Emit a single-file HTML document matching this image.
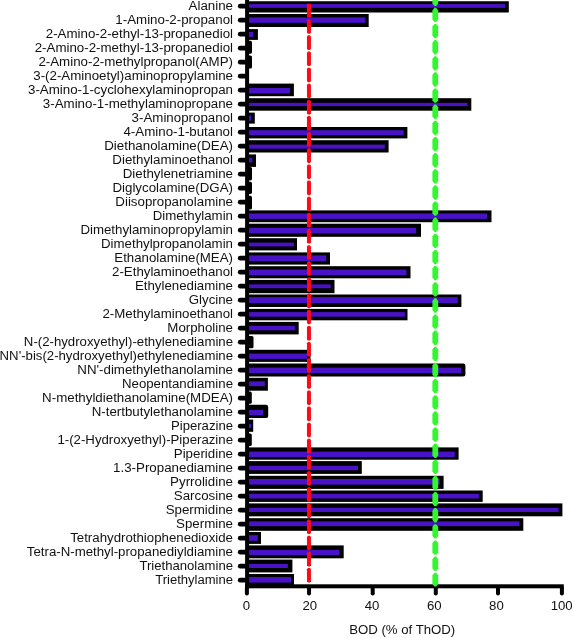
<!DOCTYPE html><html><head><meta charset="utf-8"><title>BOD chart</title><style>html,body{margin:0;padding:0;background:#fff}svg{display:block}text{font-family:"Liberation Sans",Arial,Helvetica,sans-serif;font-size:13.32px;fill:#111}.a{font-size:13.2px}</style></head><body>
<svg width="572" height="638" viewBox="0 0 572 638">
<rect width="572" height="638" fill="#fff"/>
<rect x="246" y="1.25" width="262.80" height="11.25" rx="0" fill="#000"/>
<rect x="248" y="4.10" width="257.20" height="3.70" fill="#4a12c6"/>
<line x1="240.2" y1="6.20" x2="246" y2="6.20" stroke="#000" stroke-width="4.7" stroke-linecap="round"/>
<text x="233" y="10.23" text-anchor="end">Alanine</text>
<rect x="246" y="14.00" width="122.70" height="13.00" rx="0" fill="#000"/>
<rect x="248" y="17.40" width="117.40" height="5.40" fill="#4a12c6"/>
<line x1="240.2" y1="20.20" x2="246" y2="20.20" stroke="#000" stroke-width="4.7" stroke-linecap="round"/>
<text x="233" y="24.23" text-anchor="end">1-Amino-2-propanol</text>
<rect x="246" y="29.10" width="11.90" height="10.80" rx="0" fill="#000"/>
<rect x="248" y="32.00" width="5.10" height="5.00" fill="#4a12c6"/>
<line x1="240.2" y1="34.20" x2="246" y2="34.20" stroke="#000" stroke-width="4.7" stroke-linecap="round"/>
<text x="233" y="38.23" text-anchor="end">2-Amino-2-ethyl-13-propanediol</text>
<rect x="246" y="40.70" width="6.00" height="13.00" rx="1.6" fill="#000"/>
<line x1="240.2" y1="48.20" x2="246" y2="48.20" stroke="#000" stroke-width="4.7" stroke-linecap="round"/>
<text x="233" y="52.23" text-anchor="end">2-Amino-2-methyl-13-propanediol</text>
<rect x="246" y="55.40" width="6.00" height="13.10" rx="1.6" fill="#000"/>
<line x1="240.2" y1="62.20" x2="246" y2="62.20" stroke="#000" stroke-width="4.7" stroke-linecap="round"/>
<text x="233" y="66.23" text-anchor="end">2-Amino-2-methylpropanol(AMP)</text>
<rect x="246" y="72.00" width="3.00" height="8.00" rx="1.6" fill="#000"/>
<line x1="240.2" y1="76.20" x2="246" y2="76.20" stroke="#000" stroke-width="4.7" stroke-linecap="round"/>
<text x="233" y="80.23" text-anchor="end">3-(2-Aminoetyl)aminopropylamine</text>
<rect x="246" y="83.60" width="47.90" height="12.60" rx="0" fill="#000"/>
<rect x="248" y="88.00" width="41.90" height="5.50" fill="#4a12c6"/>
<line x1="240.2" y1="90.20" x2="246" y2="90.20" stroke="#000" stroke-width="4.7" stroke-linecap="round"/>
<text x="233" y="94.23" text-anchor="end">3-Amino-1-cyclohexylaminopropan</text>
<rect x="246" y="98.20" width="225.30" height="12.50" rx="0" fill="#000"/>
<rect x="248" y="102.80" width="219.50" height="3.30" fill="#4a12c6"/>
<line x1="240.2" y1="104.20" x2="246" y2="104.20" stroke="#000" stroke-width="4.7" stroke-linecap="round"/>
<text x="233" y="108.23" text-anchor="end">3-Amino-1-methylaminopropane</text>
<rect x="246" y="112.60" width="8.80" height="11.00" rx="0" fill="#000"/>
<rect x="248" y="115.70" width="3.20" height="5.10" fill="#4a12c6"/>
<line x1="240.2" y1="118.20" x2="246" y2="118.20" stroke="#000" stroke-width="4.7" stroke-linecap="round"/>
<text x="233" y="122.23" text-anchor="end">3-Aminopropanol</text>
<rect x="246" y="127.00" width="161.40" height="11.40" rx="0" fill="#000"/>
<rect x="248" y="130.20" width="155.60" height="5.00" fill="#4a12c6"/>
<line x1="240.2" y1="132.20" x2="246" y2="132.20" stroke="#000" stroke-width="4.7" stroke-linecap="round"/>
<text x="233" y="136.23" text-anchor="end">4-Amino-1-butanol</text>
<rect x="246" y="140.20" width="142.60" height="12.30" rx="0" fill="#000"/>
<rect x="248" y="144.60" width="136.80" height="4.10" fill="#4a12c6"/>
<line x1="240.2" y1="146.20" x2="246" y2="146.20" stroke="#000" stroke-width="4.7" stroke-linecap="round"/>
<text x="233" y="150.23" text-anchor="end">Diethanolamine(DEA)</text>
<rect x="246" y="154.40" width="10.00" height="12.50" rx="0" fill="#000"/>
<rect x="248" y="157.80" width="4.30" height="4.70" fill="#4a12c6"/>
<line x1="240.2" y1="160.20" x2="246" y2="160.20" stroke="#000" stroke-width="4.7" stroke-linecap="round"/>
<text x="233" y="164.23" text-anchor="end">Diethylaminoethanol</text>
<rect x="246" y="166.90" width="6.00" height="13.50" rx="1.6" fill="#000"/>
<line x1="240.2" y1="174.20" x2="246" y2="174.20" stroke="#000" stroke-width="4.7" stroke-linecap="round"/>
<text x="233" y="178.23" text-anchor="end">Diethylenetriamine</text>
<rect x="246" y="181.70" width="6.00" height="12.20" rx="1.6" fill="#000"/>
<line x1="240.2" y1="188.20" x2="246" y2="188.20" stroke="#000" stroke-width="4.7" stroke-linecap="round"/>
<text x="233" y="192.23" text-anchor="end">Diglycolamine(DGA)</text>
<rect x="246" y="195.80" width="6.00" height="13.80" rx="1.6" fill="#000"/>
<line x1="240.2" y1="202.20" x2="246" y2="202.20" stroke="#000" stroke-width="4.7" stroke-linecap="round"/>
<text x="233" y="206.23" text-anchor="end">Diisopropanolamine</text>
<rect x="246" y="210.40" width="245.50" height="11.80" rx="0" fill="#000"/>
<rect x="248" y="213.50" width="239.00" height="5.40" fill="#4a12c6"/>
<line x1="240.2" y1="216.20" x2="246" y2="216.20" stroke="#000" stroke-width="4.7" stroke-linecap="round"/>
<text x="233" y="220.23" text-anchor="end" style="font-size:13.28px">Dimethylamin</text>
<rect x="246" y="223.70" width="175.00" height="13.10" rx="0" fill="#000"/>
<rect x="248" y="227.80" width="168.20" height="5.60" fill="#4a12c6"/>
<line x1="240.2" y1="230.20" x2="246" y2="230.20" stroke="#000" stroke-width="4.7" stroke-linecap="round"/>
<text x="233" y="234.23" text-anchor="end" style="font-size:13.28px">Dimethylaminopropylamin</text>
<rect x="246" y="238.20" width="51.00" height="12.20" rx="0" fill="#000"/>
<rect x="248" y="242.60" width="45.90" height="3.80" fill="#4a12c6"/>
<line x1="240.2" y1="244.20" x2="246" y2="244.20" stroke="#000" stroke-width="4.7" stroke-linecap="round"/>
<text x="233" y="248.23" text-anchor="end" style="font-size:13.28px">Dimethylpropanolamin</text>
<rect x="246" y="252.40" width="84.00" height="12.20" rx="0" fill="#000"/>
<rect x="248" y="255.40" width="78.20" height="5.80" fill="#4a12c6"/>
<line x1="240.2" y1="258.20" x2="246" y2="258.20" stroke="#000" stroke-width="4.7" stroke-linecap="round"/>
<text x="233" y="262.23" text-anchor="end" style="font-size:13.28px">Ethanolamine(MEA)</text>
<rect x="246" y="266.20" width="164.50" height="12.10" rx="0" fill="#000"/>
<rect x="248" y="269.60" width="158.50" height="5.60" fill="#4a12c6"/>
<line x1="240.2" y1="272.20" x2="246" y2="272.20" stroke="#000" stroke-width="4.7" stroke-linecap="round"/>
<text x="233" y="276.23" text-anchor="end" style="font-size:13.28px">2-Ethylaminoethanol</text>
<rect x="246" y="279.90" width="88.50" height="13.30" rx="0" fill="#000"/>
<rect x="248" y="284.40" width="82.70" height="3.80" fill="#4a12c6"/>
<line x1="240.2" y1="286.20" x2="246" y2="286.20" stroke="#000" stroke-width="4.7" stroke-linecap="round"/>
<text x="233" y="290.23" text-anchor="end" style="font-size:13.28px">Ethylenediamine</text>
<rect x="246" y="294.50" width="215.40" height="12.50" rx="0" fill="#000"/>
<rect x="248" y="297.20" width="209.80" height="5.90" fill="#4a12c6"/>
<line x1="240.2" y1="300.20" x2="246" y2="300.20" stroke="#000" stroke-width="4.7" stroke-linecap="round"/>
<text x="233" y="304.23" text-anchor="end" style="font-size:13.28px">Glycine</text>
<rect x="246" y="308.90" width="161.50" height="11.40" rx="0" fill="#000"/>
<rect x="248" y="312.10" width="156.80" height="4.60" fill="#4a12c6"/>
<line x1="240.2" y1="314.20" x2="246" y2="314.20" stroke="#000" stroke-width="4.7" stroke-linecap="round"/>
<text x="233" y="318.23" text-anchor="end" style="font-size:13.28px">2-Methylaminoethanol</text>
<rect x="246" y="321.90" width="52.70" height="12.50" rx="0" fill="#000"/>
<rect x="248" y="325.90" width="46.90" height="4.40" fill="#4a12c6"/>
<line x1="240.2" y1="328.20" x2="246" y2="328.20" stroke="#000" stroke-width="4.7" stroke-linecap="round"/>
<text x="233" y="332.23" text-anchor="end" style="font-size:13.28px">Morpholine</text>
<rect x="246" y="335.90" width="7.50" height="12.40" rx="1.6" fill="#000"/>
<line x1="240.2" y1="342.20" x2="246" y2="342.20" stroke="#000" stroke-width="4.7" stroke-linecap="round"/>
<text x="233" y="346.23" text-anchor="end" style="font-size:13.21px">N-(2-hydroxyethyl)-ethylenediamine</text>
<rect x="246" y="349.80" width="64.50" height="12.10" rx="0" fill="#000"/>
<rect x="248" y="353.60" width="59.10" height="5.30" fill="#4a12c6"/>
<line x1="240.2" y1="356.20" x2="246" y2="356.20" stroke="#000" stroke-width="4.7" stroke-linecap="round"/>
<text x="233" y="360.23" text-anchor="end" style="font-size:13.2px">NN&#39;-bis(2-hydroxyethyl)ethylenediamine</text>
<rect x="246" y="363.60" width="219.40" height="12.80" rx="2.2" fill="#000"/>
<rect x="248" y="367.60" width="213.20" height="5.60" fill="#4a12c6"/>
<line x1="240.2" y1="370.20" x2="246" y2="370.20" stroke="#000" stroke-width="4.7" stroke-linecap="round"/>
<text x="233" y="374.23" text-anchor="end">NN&#39;-dimethylethanolamine</text>
<rect x="246" y="377.80" width="21.90" height="12.90" rx="0" fill="#000"/>
<rect x="248" y="381.40" width="16.80" height="4.70" fill="#4a12c6"/>
<line x1="240.2" y1="384.20" x2="246" y2="384.20" stroke="#000" stroke-width="4.7" stroke-linecap="round"/>
<text x="233" y="388.23" text-anchor="end" style="font-size:13.22px">Neopentandiamine</text>
<rect x="246" y="391.60" width="5.80" height="12.20" rx="1.6" fill="#000"/>
<line x1="240.2" y1="398.20" x2="246" y2="398.20" stroke="#000" stroke-width="4.7" stroke-linecap="round"/>
<text x="233" y="402.23" text-anchor="end">N-methyldiethanolamine(MDEA)</text>
<rect x="246" y="404.80" width="22.20" height="13.30" rx="2.2" fill="#000"/>
<rect x="248" y="409.90" width="15.10" height="5.10" fill="#4a12c6"/>
<line x1="240.2" y1="412.20" x2="246" y2="412.20" stroke="#000" stroke-width="4.7" stroke-linecap="round"/>
<text x="233" y="416.23" text-anchor="end">N-tertbutylethanolamine</text>
<rect x="246" y="419.60" width="7.20" height="12.20" rx="0" fill="#000"/>
<rect x="248" y="423.70" width="3.20" height="4.30" fill="#4a12c6"/>
<line x1="240.2" y1="426.20" x2="246" y2="426.20" stroke="#000" stroke-width="4.7" stroke-linecap="round"/>
<text x="233" y="430.23" text-anchor="end" style="font-size:13.13px">Piperazine</text>
<rect x="246" y="433.40" width="5.80" height="12.70" rx="1.6" fill="#000"/>
<line x1="240.2" y1="440.20" x2="246" y2="440.20" stroke="#000" stroke-width="4.7" stroke-linecap="round"/>
<text x="233" y="444.23" text-anchor="end" style="font-size:13.22px">1-(2-Hydroxyethyl)-Piperazine</text>
<rect x="246" y="447.40" width="212.60" height="12.30" rx="0" fill="#000"/>
<rect x="248" y="451.60" width="206.80" height="5.40" fill="#4a12c6"/>
<line x1="240.2" y1="454.20" x2="246" y2="454.20" stroke="#000" stroke-width="4.7" stroke-linecap="round"/>
<text x="233" y="458.23" text-anchor="end">Piperidine</text>
<rect x="246" y="461.10" width="115.80" height="12.80" rx="0" fill="#000"/>
<rect x="248" y="465.80" width="110.00" height="4.40" fill="#4a12c6"/>
<line x1="240.2" y1="468.20" x2="246" y2="468.20" stroke="#000" stroke-width="4.7" stroke-linecap="round"/>
<text x="233" y="472.23" text-anchor="end">1.3-Propanediamine</text>
<rect x="246" y="475.80" width="197.60" height="13.10" rx="0" fill="#000"/>
<rect x="248" y="479.00" width="191.80" height="5.60" fill="#4a12c6"/>
<line x1="240.2" y1="482.20" x2="246" y2="482.20" stroke="#000" stroke-width="4.7" stroke-linecap="round"/>
<text x="233" y="486.23" text-anchor="end">Pyrrolidine</text>
<rect x="246" y="490.50" width="236.70" height="11.40" rx="0" fill="#000"/>
<rect x="248" y="493.80" width="230.90" height="4.70" fill="#4a12c6"/>
<line x1="240.2" y1="496.20" x2="246" y2="496.20" stroke="#000" stroke-width="4.7" stroke-linecap="round"/>
<text x="233" y="500.23" text-anchor="end">Sarcosine</text>
<rect x="246" y="503.40" width="316.40" height="12.90" rx="0" fill="#000"/>
<rect x="248" y="507.80" width="310.60" height="4.20" fill="#4a12c6"/>
<line x1="240.2" y1="510.20" x2="246" y2="510.20" stroke="#000" stroke-width="4.7" stroke-linecap="round"/>
<text x="233" y="514.23" text-anchor="end">Spermidine</text>
<rect x="246" y="518.20" width="277.30" height="12.60" rx="0" fill="#000"/>
<rect x="248" y="521.40" width="271.50" height="4.70" fill="#4a12c6"/>
<line x1="240.2" y1="524.20" x2="246" y2="524.20" stroke="#000" stroke-width="4.7" stroke-linecap="round"/>
<text x="233" y="528.23" text-anchor="end">Spermine</text>
<rect x="246" y="532.00" width="15.00" height="11.90" rx="0" fill="#000"/>
<rect x="248" y="535.20" width="9.80" height="5.60" fill="#4a12c6"/>
<line x1="240.2" y1="538.20" x2="246" y2="538.20" stroke="#000" stroke-width="4.7" stroke-linecap="round"/>
<text x="233" y="542.23" text-anchor="end" style="font-size:13.25px">Tetrahydrothiophenedioxide</text>
<rect x="246" y="545.40" width="97.70" height="12.90" rx="0" fill="#000"/>
<rect x="248" y="549.90" width="91.50" height="5.15" fill="#4a12c6"/>
<line x1="240.2" y1="552.20" x2="246" y2="552.20" stroke="#000" stroke-width="4.7" stroke-linecap="round"/>
<text x="233" y="556.23" text-anchor="end" style="font-size:13.26px">Tetra-N-methyl-propanediyldiamine</text>
<rect x="246" y="559.60" width="46.40" height="12.80" rx="0" fill="#000"/>
<rect x="248" y="564.00" width="39.90" height="4.00" fill="#4a12c6"/>
<line x1="240.2" y1="566.20" x2="246" y2="566.20" stroke="#000" stroke-width="4.7" stroke-linecap="round"/>
<text x="233" y="570.23" text-anchor="end" style="font-size:13.13px">Triethanolamine</text>
<rect x="246" y="574.00" width="48.00" height="12.00" rx="0" fill="#000"/>
<rect x="248" y="577.00" width="43.00" height="5.60" fill="#4a12c6"/>
<line x1="240.2" y1="580.20" x2="246" y2="580.20" stroke="#000" stroke-width="4.7" stroke-linecap="round"/>
<text x="233" y="584.23" text-anchor="end" style="font-size:13.05px">Triethylamine</text>
<rect x="245.1" y="0" width="4" height="588.3" fill="#000"/>
<rect x="245.1" y="584.3" width="318.7" height="4" fill="#000"/>
<line x1="246.90" y1="588" x2="246.90" y2="593.4" stroke="#000" stroke-width="4" stroke-linecap="round"/>
<text class="a" x="246.40" y="610.4" text-anchor="middle">0</text>
<line x1="309.05" y1="588" x2="309.05" y2="593.4" stroke="#000" stroke-width="4" stroke-linecap="round"/>
<text class="a" x="309.75" y="610.4" text-anchor="middle">20</text>
<line x1="372.70" y1="588" x2="372.70" y2="593.4" stroke="#000" stroke-width="4" stroke-linecap="round"/>
<text class="a" x="372.00" y="610.4" text-anchor="middle">40</text>
<line x1="435.80" y1="588" x2="435.80" y2="593.4" stroke="#000" stroke-width="4" stroke-linecap="round"/>
<text class="a" x="434.30" y="610.4" text-anchor="middle">60</text>
<line x1="498.00" y1="588" x2="498.00" y2="593.4" stroke="#000" stroke-width="4" stroke-linecap="round"/>
<text class="a" x="496.40" y="610.4" text-anchor="middle">80</text>
<line x1="561.90" y1="588" x2="561.90" y2="593.4" stroke="#000" stroke-width="4" stroke-linecap="round"/>
<text class="a" x="561.70" y="610.4" text-anchor="middle">100</text>
<text class="a" x="402.2" y="634.2" text-anchor="middle">BOD (% of ThOD)</text>
<polygon fill="#ff0a16" points="306.95,3.80 307.95,3.80 309.95,3.80 310.95,3.80 310.95,16.42 309.95,17.62 307.95,17.62 306.95,16.42"/>
<polygon fill="#ff0a16" points="306.95,20.42 307.95,19.22 309.95,19.22 310.95,20.42 310.95,32.56 309.95,33.76 307.95,33.76 306.95,32.56"/>
<polygon fill="#ff0a16" points="306.95,36.56 307.95,35.36 309.95,35.36 310.95,36.56 310.95,48.70 309.95,49.90 307.95,49.90 306.95,48.70"/>
<polygon fill="#ff0a16" points="306.95,52.70 307.95,51.50 309.95,51.50 310.95,52.70 310.95,64.84 309.95,66.04 307.95,66.04 306.95,64.84"/>
<polygon fill="#ff0a16" points="306.95,68.84 307.95,67.64 309.95,67.64 310.95,68.84 310.95,80.98 309.95,82.18 307.95,82.18 306.95,80.98"/>
<polygon fill="#ff0a16" points="306.95,84.98 307.95,83.78 309.95,83.78 310.95,84.98 310.95,97.12 309.95,98.32 307.95,98.32 306.95,97.12"/>
<polygon fill="#ff0a16" points="306.95,101.12 307.95,99.92 309.95,99.92 310.95,101.12 310.95,113.26 309.95,114.46 307.95,114.46 306.95,113.26"/>
<polygon fill="#ff0a16" points="306.95,117.26 307.95,116.06 309.95,116.06 310.95,117.26 310.95,129.40 309.95,130.60 307.95,130.60 306.95,129.40"/>
<polygon fill="#ff0a16" points="306.95,133.40 307.95,132.20 309.95,132.20 310.95,133.40 310.95,145.54 309.95,146.74 307.95,146.74 306.95,145.54"/>
<polygon fill="#ff0a16" points="306.95,149.54 307.95,148.34 309.95,148.34 310.95,149.54 310.95,161.68 309.95,162.88 307.95,162.88 306.95,161.68"/>
<polygon fill="#ff0a16" points="306.95,165.68 307.95,164.48 309.95,164.48 310.95,165.68 310.95,177.82 309.95,179.02 307.95,179.02 306.95,177.82"/>
<polygon fill="#ff0a16" points="306.95,181.82 307.95,180.62 309.95,180.62 310.95,181.82 310.95,193.96 309.95,195.16 307.95,195.16 306.95,193.96"/>
<polygon fill="#ff0a16" points="306.95,197.96 307.95,196.76 309.95,196.76 310.95,197.96 310.95,210.10 309.95,211.30 307.95,211.30 306.95,210.10"/>
<polygon fill="#ff0a16" points="306.95,214.10 307.95,212.90 309.95,212.90 310.95,214.10 310.95,226.24 309.95,227.44 307.95,227.44 306.95,226.24"/>
<polygon fill="#ff0a16" points="306.95,230.24 307.95,229.04 309.95,229.04 310.95,230.24 310.95,242.38 309.95,243.58 307.95,243.58 306.95,242.38"/>
<polygon fill="#ff0a16" points="306.95,246.38 307.95,245.18 309.95,245.18 310.95,246.38 310.95,258.52 309.95,259.72 307.95,259.72 306.95,258.52"/>
<polygon fill="#ff0a16" points="306.95,262.52 307.95,261.32 309.95,261.32 310.95,262.52 310.95,274.66 309.95,275.86 307.95,275.86 306.95,274.66"/>
<polygon fill="#ff0a16" points="306.95,278.66 307.95,277.46 309.95,277.46 310.95,278.66 310.95,290.80 309.95,292.00 307.95,292.00 306.95,290.80"/>
<polygon fill="#ff0a16" points="306.95,294.80 307.95,293.60 309.95,293.60 310.95,294.80 310.95,306.94 309.95,308.14 307.95,308.14 306.95,306.94"/>
<polygon fill="#ff0a16" points="306.95,310.94 307.95,309.74 309.95,309.74 310.95,310.94 310.95,323.08 309.95,324.28 307.95,324.28 306.95,323.08"/>
<polygon fill="#ff0a16" points="306.95,327.08 307.95,325.88 309.95,325.88 310.95,327.08 310.95,339.22 309.95,340.42 307.95,340.42 306.95,339.22"/>
<polygon fill="#ff0a16" points="306.95,343.22 307.95,342.02 309.95,342.02 310.95,343.22 310.95,355.36 309.95,356.56 307.95,356.56 306.95,355.36"/>
<polygon fill="#ff0a16" points="306.95,359.36 307.95,358.16 309.95,358.16 310.95,359.36 310.95,371.50 309.95,372.70 307.95,372.70 306.95,371.50"/>
<polygon fill="#ff0a16" points="306.95,375.50 307.95,374.30 309.95,374.30 310.95,375.50 310.95,387.64 309.95,388.84 307.95,388.84 306.95,387.64"/>
<polygon fill="#ff0a16" points="306.95,391.64 307.95,390.44 309.95,390.44 310.95,391.64 310.95,403.78 309.95,404.98 307.95,404.98 306.95,403.78"/>
<polygon fill="#ff0a16" points="306.95,407.78 307.95,406.58 309.95,406.58 310.95,407.78 310.95,419.92 309.95,421.12 307.95,421.12 306.95,419.92"/>
<polygon fill="#ff0a16" points="306.95,423.92 307.95,422.72 309.95,422.72 310.95,423.92 310.95,436.06 309.95,437.26 307.95,437.26 306.95,436.06"/>
<polygon fill="#ff0a16" points="306.95,440.06 307.95,438.86 309.95,438.86 310.95,440.06 310.95,452.20 309.95,453.40 307.95,453.40 306.95,452.20"/>
<polygon fill="#ff0a16" points="306.95,456.20 307.95,455.00 309.95,455.00 310.95,456.20 310.95,468.34 309.95,469.54 307.95,469.54 306.95,468.34"/>
<polygon fill="#ff0a16" points="306.95,472.34 307.95,471.14 309.95,471.14 310.95,472.34 310.95,484.48 309.95,485.68 307.95,485.68 306.95,484.48"/>
<polygon fill="#ff0a16" points="306.95,488.48 307.95,487.28 309.95,487.28 310.95,488.48 310.95,500.62 309.95,501.82 307.95,501.82 306.95,500.62"/>
<polygon fill="#ff0a16" points="306.95,504.62 307.95,503.42 309.95,503.42 310.95,504.62 310.95,516.76 309.95,517.96 307.95,517.96 306.95,516.76"/>
<polygon fill="#ff0a16" points="306.95,520.76 307.95,519.56 309.95,519.56 310.95,520.76 310.95,532.90 309.95,534.10 307.95,534.10 306.95,532.90"/>
<polygon fill="#ff0a16" points="306.95,536.90 307.95,535.70 309.95,535.70 310.95,536.90 310.95,549.04 309.95,550.24 307.95,550.24 306.95,549.04"/>
<polygon fill="#ff0a16" points="306.95,553.04 307.95,551.84 309.95,551.84 310.95,553.04 310.95,565.18 309.95,566.38 307.95,566.38 306.95,565.18"/>
<polygon fill="#ff0a16" points="306.95,569.18 307.95,567.98 309.95,567.98 310.95,569.18 310.95,581.32 309.95,582.52 307.95,582.52 306.95,581.32"/>
<polygon fill="#33f72e" points="432.40,0.00 434.43,0.00 436.17,0.00 438.20,0.00 438.20,3.38 436.17,5.98 434.43,5.98 432.40,3.38"/>
<polygon fill="#33f72e" points="432.40,10.38 434.43,7.78 436.17,7.78 438.20,10.38 438.20,19.52 436.17,22.12 434.43,22.12 432.40,19.52"/>
<polygon fill="#33f72e" points="432.40,26.52 434.43,23.92 436.17,23.92 438.20,26.52 438.20,35.66 436.17,38.26 434.43,38.26 432.40,35.66"/>
<polygon fill="#33f72e" points="432.40,42.66 434.43,40.06 436.17,40.06 438.20,42.66 438.20,51.80 436.17,54.40 434.43,54.40 432.40,51.80"/>
<polygon fill="#33f72e" points="432.40,58.80 434.43,56.20 436.17,56.20 438.20,58.80 438.20,67.94 436.17,70.54 434.43,70.54 432.40,67.94"/>
<polygon fill="#33f72e" points="432.40,74.94 434.43,72.34 436.17,72.34 438.20,74.94 438.20,84.08 436.17,86.68 434.43,86.68 432.40,84.08"/>
<polygon fill="#33f72e" points="432.40,91.08 434.43,88.48 436.17,88.48 438.20,91.08 438.20,100.22 436.17,102.82 434.43,102.82 432.40,100.22"/>
<polygon fill="#33f72e" points="432.40,107.22 434.43,104.62 436.17,104.62 438.20,107.22 438.20,116.36 436.17,118.96 434.43,118.96 432.40,116.36"/>
<polygon fill="#33f72e" points="432.40,123.36 434.43,120.76 436.17,120.76 438.20,123.36 438.20,132.50 436.17,135.10 434.43,135.10 432.40,132.50"/>
<polygon fill="#33f72e" points="432.40,139.50 434.43,136.90 436.17,136.90 438.20,139.50 438.20,148.64 436.17,151.24 434.43,151.24 432.40,148.64"/>
<polygon fill="#33f72e" points="432.40,155.64 434.43,153.04 436.17,153.04 438.20,155.64 438.20,164.78 436.17,167.38 434.43,167.38 432.40,164.78"/>
<polygon fill="#33f72e" points="432.40,171.78 434.43,169.18 436.17,169.18 438.20,171.78 438.20,180.92 436.17,183.52 434.43,183.52 432.40,180.92"/>
<polygon fill="#33f72e" points="432.40,187.92 434.43,185.32 436.17,185.32 438.20,187.92 438.20,197.06 436.17,199.66 434.43,199.66 432.40,197.06"/>
<polygon fill="#33f72e" points="432.40,204.06 434.43,201.46 436.17,201.46 438.20,204.06 438.20,213.20 436.17,215.80 434.43,215.80 432.40,213.20"/>
<polygon fill="#33f72e" points="432.40,220.20 434.43,217.60 436.17,217.60 438.20,220.20 438.20,229.34 436.17,231.94 434.43,231.94 432.40,229.34"/>
<polygon fill="#33f72e" points="432.40,236.34 434.43,233.74 436.17,233.74 438.20,236.34 438.20,245.48 436.17,248.08 434.43,248.08 432.40,245.48"/>
<polygon fill="#33f72e" points="432.40,252.48 434.43,249.88 436.17,249.88 438.20,252.48 438.20,261.62 436.17,264.22 434.43,264.22 432.40,261.62"/>
<polygon fill="#33f72e" points="432.40,268.62 434.43,266.02 436.17,266.02 438.20,268.62 438.20,277.76 436.17,280.36 434.43,280.36 432.40,277.76"/>
<polygon fill="#33f72e" points="432.40,284.76 434.43,282.16 436.17,282.16 438.20,284.76 438.20,293.90 436.17,296.50 434.43,296.50 432.40,293.90"/>
<polygon fill="#33f72e" points="432.40,300.90 434.43,298.30 436.17,298.30 438.20,300.90 438.20,310.04 436.17,312.64 434.43,312.64 432.40,310.04"/>
<polygon fill="#33f72e" points="432.40,317.04 434.43,314.44 436.17,314.44 438.20,317.04 438.20,326.18 436.17,328.78 434.43,328.78 432.40,326.18"/>
<polygon fill="#33f72e" points="432.40,333.18 434.43,330.58 436.17,330.58 438.20,333.18 438.20,342.32 436.17,344.92 434.43,344.92 432.40,342.32"/>
<polygon fill="#33f72e" points="432.40,349.32 434.43,346.72 436.17,346.72 438.20,349.32 438.20,358.46 436.17,361.06 434.43,361.06 432.40,358.46"/>
<polygon fill="#33f72e" points="432.40,365.46 434.43,362.86 436.17,362.86 438.20,365.46 438.20,374.60 436.17,377.20 434.43,377.20 432.40,374.60"/>
<polygon fill="#33f72e" points="432.40,381.60 434.43,379.00 436.17,379.00 438.20,381.60 438.20,390.74 436.17,393.34 434.43,393.34 432.40,390.74"/>
<polygon fill="#33f72e" points="432.40,397.74 434.43,395.14 436.17,395.14 438.20,397.74 438.20,406.88 436.17,409.48 434.43,409.48 432.40,406.88"/>
<polygon fill="#33f72e" points="432.40,413.88 434.43,411.28 436.17,411.28 438.20,413.88 438.20,423.02 436.17,425.62 434.43,425.62 432.40,423.02"/>
<polygon fill="#33f72e" points="432.40,430.02 434.43,427.42 436.17,427.42 438.20,430.02 438.20,439.16 436.17,441.76 434.43,441.76 432.40,439.16"/>
<polygon fill="#33f72e" points="432.40,446.16 434.43,443.56 436.17,443.56 438.20,446.16 438.20,455.30 436.17,457.90 434.43,457.90 432.40,455.30"/>
<polygon fill="#33f72e" points="432.40,462.30 434.43,459.70 436.17,459.70 438.20,462.30 438.20,471.44 436.17,474.04 434.43,474.04 432.40,471.44"/>
<polygon fill="#33f72e" points="432.40,478.44 434.43,475.84 436.17,475.84 438.20,478.44 438.20,487.58 436.17,490.18 434.43,490.18 432.40,487.58"/>
<polygon fill="#33f72e" points="432.40,494.58 434.43,491.98 436.17,491.98 438.20,494.58 438.20,503.72 436.17,506.32 434.43,506.32 432.40,503.72"/>
<polygon fill="#33f72e" points="432.40,510.72 434.43,508.12 436.17,508.12 438.20,510.72 438.20,519.86 436.17,522.46 434.43,522.46 432.40,519.86"/>
<polygon fill="#33f72e" points="432.40,526.86 434.43,524.26 436.17,524.26 438.20,526.86 438.20,536.00 436.17,538.60 434.43,538.60 432.40,536.00"/>
<polygon fill="#33f72e" points="432.40,543.00 434.43,540.40 436.17,540.40 438.20,543.00 438.20,552.14 436.17,554.74 434.43,554.74 432.40,552.14"/>
<polygon fill="#33f72e" points="432.40,559.14 434.43,556.54 436.17,556.54 438.20,559.14 438.20,568.28 436.17,570.88 434.43,570.88 432.40,568.28"/>
<polygon fill="#33f72e" points="432.40,575.28 434.43,572.68 436.17,572.68 438.20,575.28 438.20,583.90 436.17,586.50 434.43,586.50 432.40,583.90"/>
</svg></body></html>
